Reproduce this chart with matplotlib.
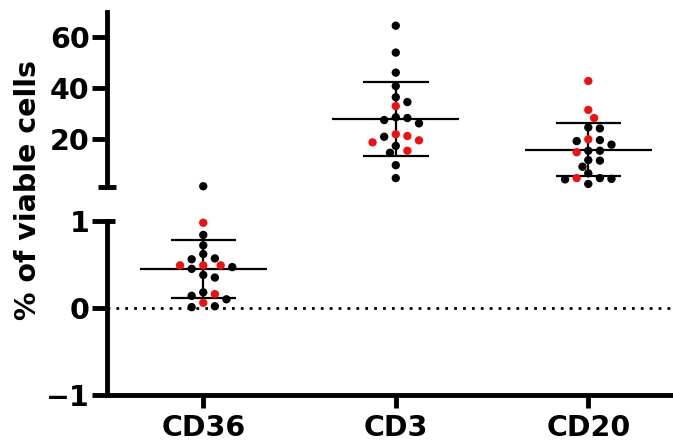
import numpy as np
import matplotlib
matplotlib.use("Agg")
import matplotlib.pyplot as plt
from matplotlib.transforms import blended_transform_factory

# ---------------- data ----------------
categories = ["CD36", "CD3", "CD20"]
cd36_black = [1.3, 0.84, 0.72, 0.57, 0.45, 0.56, 0.62, 0.47, 0.35, 0.38, 0.14, 0.18, 0.10, 0.01, 0.02]
cd36_red = [0.98, 0.49, 0.49, 0.49, 0.16, 0.06]
cd3_black = [64.6, 54.0, 46.1, 40.8, 34.5, 36.4, 28.2, 26.1, 27.4, 28.5, 20.8, 17.2, 14.5, 9.6, 4.5]
cd3_red = [32.9, 21.1, 19.4, 21.8, 18.6, 15.3]
cd20_black = [24.5, 24.1, 19.1, 19.5, 17.7, 15.3, 15.3, 11.4, 11.6, 9.0, 4.5, 4.2, 2.2, 4.0, 6.4]
cd20_red = [42.8, 31.4, 28.2, 19.8, 14.7, 4.5]
black_groups = [cd36_black, cd3_black, cd20_black]
red_groups = [cd36_red, cd3_red, cd20_red]
top_ticks = [20, 40, 60]
bottom_ticks = [-1, 0, 1]
break_value = 1.0

# ---------------- layout ----------------
W, H = 673, 443
fig = plt.figure(figsize=(W / 100, H / 100), dpi=100)
L = 107 / W
ax_top = fig.add_axes([L, 1 - 187 / H, 1 - L, (187 - 12) / H])
ax_bot = fig.add_axes([L, 1 - 395 / H, 1 - L, (395 - 221) / H])

XLIM = (-0.5, 2.44)
for ax in (ax_top, ax_bot):
    ax.set_xlim(*XLIM)
    ax.patch.set_alpha(0)
ax_top.set_ylim(break_value, 70)
ax_bot.set_ylim(-1, break_value)

LW_AX = 3.5
FS = 20.5
TICK_LEN = 10.5
font = dict(family="DejaVu Sans", weight="bold", size=FS)

# top axes styling
for s in ("top", "right", "bottom"):
    ax_top.spines[s].set_visible(False)
ax_top.spines["left"].set_linewidth(LW_AX)
ax_top.set_xticks([])
ax_top.set_yticks(top_ticks)
ax_top.set_yticklabels([str(t) for t in top_ticks], **font)
ax_top.tick_params(axis="y", length=TICK_LEN, width=LW_AX, pad=2)
# cap at bottom of top segment
ax_top.set_yticks([break_value], minor=True)
ax_top.tick_params(axis="y", which="minor", direction="inout", length=13, width=LW_AX)

# bottom axes styling
for s in ("top", "right"):
    ax_bot.spines[s].set_visible(False)
ax_bot.spines["left"].set_linewidth(LW_AX)
ax_bot.spines["bottom"].set_linewidth(LW_AX)
ax_bot.set_yticks(bottom_ticks)
ax_bot.set_yticklabels([str(t) if t >= 0 else "\u22121" for t in bottom_ticks], **font)
ax_bot.tick_params(axis="y", length=TICK_LEN, width=LW_AX, pad=2)
ax_bot.set_xticks(range(len(categories)))
ax_bot.set_xticklabels(categories, **font)
ax_bot.tick_params(axis="x", length=9, width=LW_AX, pad=5)
# cap to the right at top of bottom segment
tr = blended_transform_factory(ax_bot.transAxes, ax_bot.transData)
cap_w = 8 / ((1 - L) * W)
ax_bot.plot([0, cap_w], [break_value, break_value], color="black", lw=LW_AX,
            transform=tr, clip_on=False, solid_capstyle="butt")

# dotted zero line
ax_bot.axhline(0, color="black", lw=2.0, linestyle=(0, (1, 2.2)), zorder=1)

fig.text(28 / W, 1 - 190 / H, "% of viable cells", rotation=90, ha="center",
         va="center", family="DejaVu Sans", weight="bold", size=FS)


def axis_for(v):
    return ax_top if v > break_value else ax_bot


def swarm_offsets(vals, center, step_px=5.8, diam_px=8.6):
    vals = np.asarray(vals, dtype=float)
    placed = []
    offs = np.zeros(len(vals))
    order = np.argsort(-vals, kind="stable")
    cands = [0]
    for k in range(1, 30):
        cands += [k, -k]
    for i in order:
        ax = axis_for(vals[i])
        y = ax.transData.transform((center, vals[i]))[1]
        for k in cands:
            x = k * step_px
            if all((x - px) ** 2 + (y - py) ** 2 >= diam_px ** 2 for px, py in placed):
                break
        placed.append((x, y))
        offs[i] = x
    ppu = ax_bot.transData.transform((1, 0))[0] - ax_bot.transData.transform((0, 0))[0]
    return offs / ppu


MEAN_HW = 0.33
CAP_HW = 0.17
for ci, (blk, red) in enumerate(zip(black_groups, red_groups)):
    vals = list(blk) + list(red)
    cols = ["black"] * len(blk) + ["#ee1111"] * len(red)
    offs = swarm_offsets(vals, ci)
    for v, o, c in zip(vals, offs, cols):
        axis_for(v).scatter(ci + o, v, s=36, color=c, edgecolors="none",
                            zorder=4, clip_on=False)
    m = np.mean(vals)
    sd = np.std(vals, ddof=1)
    ax = axis_for(m)
    ax.hlines(m, ci - MEAN_HW, ci + MEAN_HW, color="black", lw=1.6, zorder=3)
    ax.vlines(ci, m - sd, m + sd, color="black", lw=1.6, zorder=3)
    ax.hlines([m - sd, m + sd], ci - CAP_HW, ci + CAP_HW, color="black", lw=1.6, zorder=3)

fig.savefig("out.png", dpi=100)
